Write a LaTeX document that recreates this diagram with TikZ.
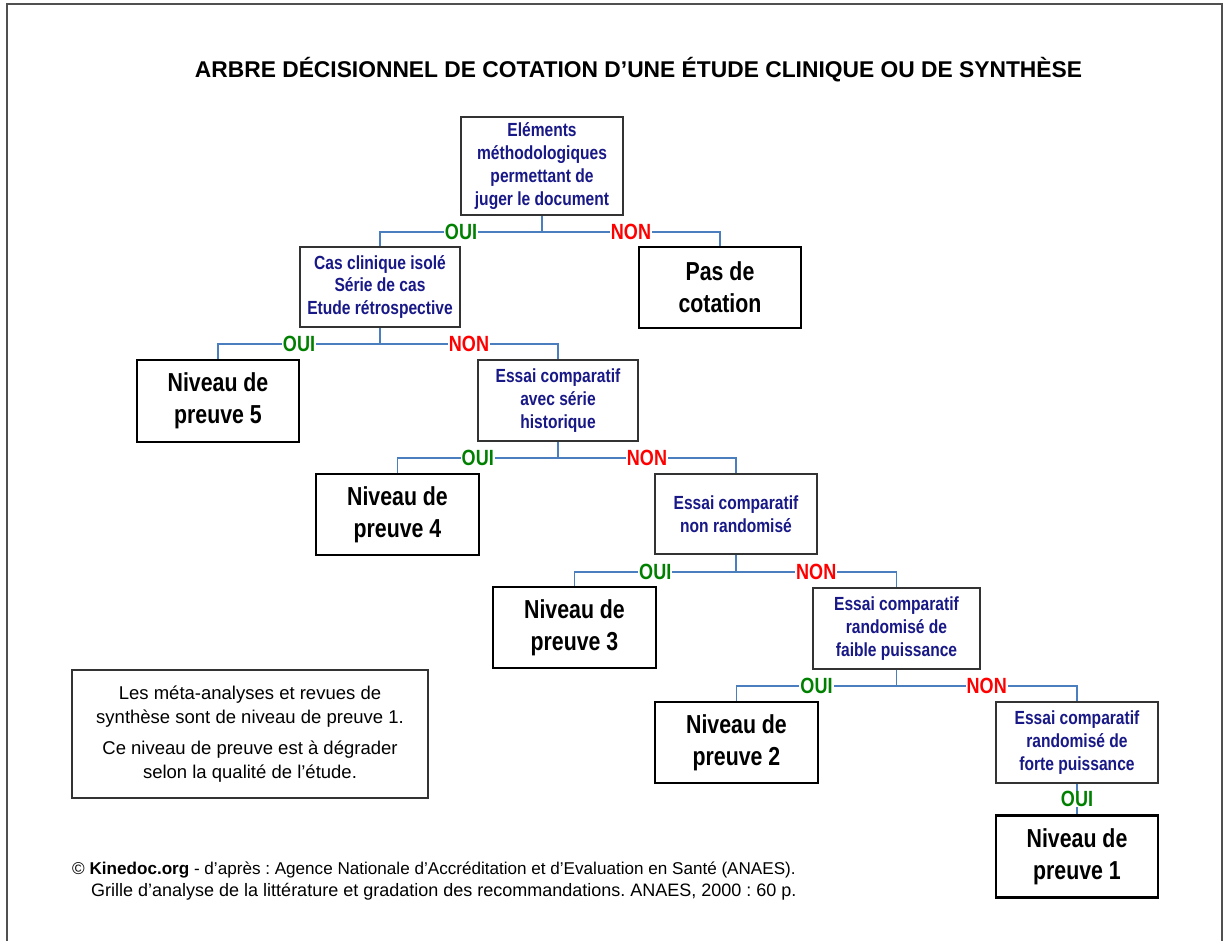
\documentclass[tikz,border=0pt]{standalone}
\usepackage{fontspec}
\setmainfont{Liberation Sans}
\newfontfamily\narrowfont[FakeStretch=0.82]{Liberation Sans}
\usetikzlibrary{calc}
\definecolor{connblue}{RGB}{74,126,190}
\definecolor{navytxt}{RGB}{24,24,135}
\definecolor{ouigreen}{RGB}{0,128,0}
\definecolor{nonred}{RGB}{255,0,0}
\definecolor{framegray}{RGB}{80,80,80}
\tikzset{
  qbox/.style={draw=black!80, line width=1.3pt, fill=white, align=center, inner sep=2pt,
    text=navytxt, font={\narrowfont\bfseries\fontsize{19}{22.7}\selectfont}},
  rbox/.style={draw=black, line width=2.6pt, fill=white, align=center, inner sep=2pt,
    font={\narrowfont\bfseries\fontsize{26}{32}\selectfont}},
  conn/.style={draw=connblue, line width=1.9pt},
  lab/.style={fill=white, inner xsep=1pt, inner ysep=0pt, font={\narrowfont\bfseries\fontsize{22}{24}\selectfont}},
  oui/.style={lab, text=ouigreen},
  non/.style={lab, text=nonred},
  notebox/.style={draw=black!80, line width=1.2pt, align=center, inner sep=2pt,
    font={\fontsize{18.5}{24}\selectfont}},
  foot/.style={anchor=base west, inner sep=0pt, font={\frenchspacing\fontsize{18}{22}\selectfont}}
}
\begin{document}
\begin{tikzpicture}[x=1pt,y=-1pt]
\useasboundingbox (0,0) rectangle (1230,941);
\begin{scope}
  \clip (0,0) rectangle (1230,941);
  \draw[framegray, line width=1.5pt] (7,960) -- (7,4) -- (1222,4) -- (1222,960);
\end{scope}

\node[anchor=base, inner sep=0pt, font={\bfseries\fontsize{22.8}{26}\selectfont}] (title) at (638.5,78)
  {ARBRE DÉCISIONNEL DE COTATION D’UNE ÉTUDE CLINIQUE OU DE SYNTHÈSE};

% decision boxes
\node[qbox, minimum width=162, minimum height=98] (A) at (542,166)
  {Eléments\\méthodologiques\\permettant de\\juger le document};
\node[qbox, minimum width=160, minimum height=80] (B) at (380,287)
  {Cas clinique isolé\\Série de cas\\Etude rétrospective};
\node[rbox, minimum width=162, minimum height=81] (PC) at (720,287.5) {Pas de\\cotation};
\node[rbox, minimum width=162, minimum height=82] (N5) at (218,401) {Niveau de\\preuve 5};
\node[qbox, minimum width=160, minimum height=81] (C) at (558,400.5)
  {Essai comparatif\\avec série\\historique};
\node[rbox, minimum width=163, minimum height=81] (N4) at (397.5,514.5) {Niveau de\\preuve 4};
\node[qbox, minimum width=162, minimum height=80] (D) at (736,514)
  {Essai comparatif\\non randomisé};
\node[rbox, minimum width=163, minimum height=81] (N3) at (574.5,627.5) {Niveau de\\preuve 3};
\node[qbox, minimum width=167, minimum height=81] (E) at (896.5,628.5)
  {Essai comparatif\\randomisé de\\faible puissance};
\node[rbox, minimum width=163, minimum height=81] (N2) at (736.5,742.5) {Niveau de\\preuve 2};
\node[qbox, minimum width=162, minimum height=81] (F) at (1077,742.5)
  {Essai comparatif\\randomisé de\\forte puissance};
\node[rbox, minimum width=162, minimum height=82] (N1) at (1077,856.5) {Niveau de\\preuve 1};

% connectors
\draw[conn] (A.south) -- ++(0,16) coordinate (jA);
\draw[conn] (jA) -- node[oui]{OUI} (jA -| B.north) -- (B.north);
\draw[conn] (jA) -- node[non]{NON} (jA -| PC.north) -- (PC.north);

\draw[conn] (B.south) -- ++(0,16) coordinate (jB);
\draw[conn] (jB) -- node[oui]{OUI} (jB -| N5.north) -- (N5.north);
\draw[conn] (jB) -- node[non]{NON} (jB -| C.north) -- (C.north);

\draw[conn] (C.south) -- ++(0,16.5) coordinate (jC);
\draw[conn] (jC) -- node[oui]{OUI} (jC -| N4.north) -- (N4.north);
\draw[conn] (jC) -- node[non]{NON} (jC -| D.north) -- (D.north);

\draw[conn] (D.south) -- ++(0,17) coordinate (jD);
\draw[conn] (jD) -- node[oui]{OUI} (jD -| N3.north) -- (N3.north);
\draw[conn] (jD) -- node[non]{NON} (jD -| E.north) -- (E.north);

\draw[conn] (E.south) -- ++(0,16) coordinate (jE);
\draw[conn] (jE) -- node[oui]{OUI} (jE -| N2.north) -- (N2.north);
\draw[conn] (jE) -- node[non]{NON} (jE -| F.north) -- (F.north);

\draw[conn] (F.south) -- node[oui]{OUI} (N1.north);

% note
\node[notebox, minimum width=356, minimum height=128] (note) at (250,734)
  {Les méta-analyses et revues de\\synthèse sont de niveau de preuve 1.\\[7pt]Ce niveau de preuve est à dégrader\\selon la qualité de l’étude.};

% footer
\node[foot, font={\frenchspacing\fontsize{17.1}{22}\selectfont}] (f1) at (72,874) {© \textbf{Kinedoc.org} - d’après : Agence Nationale d’Accréditation et d’Evaluation en Santé (ANAES).};
\node[foot] (f2) at (91,896) {Grille d’analyse de la littérature et gradation des recommandations. ANAES, 2000 : 60 p.};
\end{tikzpicture}
\end{document}
